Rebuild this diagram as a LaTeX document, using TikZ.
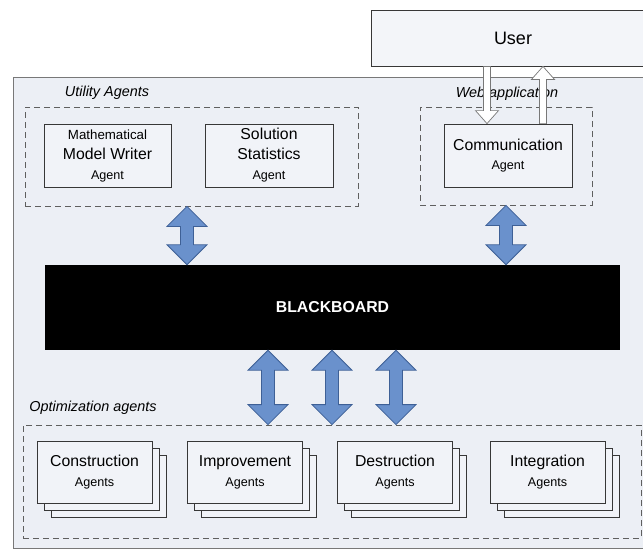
\documentclass[tikz,border=0pt]{standalone}
\usepackage{fontspec}
\setmainfont{Liberation Sans}
\usetikzlibrary{calc,shadows}

\definecolor{panelfill}{RGB}{236,239,245}
\definecolor{boxfill}{RGB}{241,243,248}
\definecolor{userfill}{RGB}{243,245,249}
\definecolor{boxline}{RGB}{55,55,55}
\definecolor{panelline}{RGB}{120,120,120}
\definecolor{dashline}{RGB}{95,95,95}
\definecolor{arrowfill}{RGB}{106,145,204}
\definecolor{arrowline}{RGB}{62,96,150}
\definecolor{thinline}{RGB}{120,120,120}

\tikzset{
  panel/.style={draw=panelline, fill=panelfill, line width=0.8pt, inner sep=0pt},
  userbox/.style={draw=boxline, fill=userfill, line width=0.8pt, inner sep=0pt,
    font=\fontsize{18}{22}\selectfont},
  group/.style={draw=dashline, dash pattern=on 6pt off 4pt, line width=0.8pt, inner sep=0pt},
  grouplabel/.style={font=\fontsize{14.4}{17}\selectfont\itshape, inner sep=0pt},
  agentbox/.style={draw=boxline, fill=boxfill, line width=0.8pt, inner sep=0pt,
    align=center, font=\fontsize{15.8}{20}\selectfont},
  stackbox/.style={agentbox, minimum width=115pt, minimum height=62pt,
    double copy shadow={shadow xshift=7pt, shadow yshift=-7pt,
      draw=boxline, fill=boxfill, line width=0.8pt}},
  board/.style={fill=black, inner sep=0pt, text=white,
    font=\fontsize{15.8}{20}\selectfont\bfseries},
  bluearrow/.style={fill=arrowfill, draw=arrowline, line width=0.8pt, line join=miter},
  hollowarrow/.style={fill=white, draw=thinline, line width=0.7pt, line join=miter}
}

\newcommand{\sm}[1]{{\fontsize{12.6}{20}\selectfont #1}}
\newcommand{\smm}[1]{{\fontsize{13.3}{20}\selectfont #1}}

% two-headed block arrow from #1 (upper tip) to #2 (lower tip)
\newcommand{\blockdbl}[2]{%
  \path[bluearrow] let \p1=(#1), \p2=(#2) in
    (\x1,\y1) -- (\x1+20pt,\y1-20pt) -- (\x1+6.5pt,\y1-20pt)
    -- (\x2+6.5pt,\y2+20pt) -- (\x2+20pt,\y2+20pt) -- (\x2,\y2)
    -- (\x2-20pt,\y2+20pt) -- (\x2-6.5pt,\y2+20pt)
    -- (\x1-6.5pt,\y1-20pt) -- (\x1-20pt,\y1-20pt) -- cycle;}

% thin outlined arrow pointing down from #1 to #2
\newcommand{\hollowdown}[2]{%
  \path[hollowarrow] let \p1=(#1), \p2=(#2) in
    (\x1-3.5pt,\y1) -- (\x1+3.5pt,\y1) -- (\x2+3.5pt,\y2+13pt)
    -- (\x2+11.5pt,\y2+13pt) -- (\x2,\y2) -- (\x2-11.5pt,\y2+13pt)
    -- (\x2-3.5pt,\y2+13pt) -- cycle;}

% thin outlined arrow pointing up from #1 to #2
\newcommand{\hollowup}[2]{%
  \path[hollowarrow] let \p1=(#1), \p2=(#2) in
    (\x1-3.5pt,\y1) -- (\x1+3.5pt,\y1) -- (\x2+3.5pt,\y2-13pt)
    -- (\x2+11.5pt,\y2-13pt) -- (\x2,\y2) -- (\x2-11.5pt,\y2-13pt)
    -- (\x2-3.5pt,\y2-13pt) -- cycle;}

\begin{document}
\begin{tikzpicture}[x=1pt,y=-1pt]
  \useasboundingbox (0,0) rectangle (643,550);
  \clip (0,0) rectangle (643,550);
  \fill[white] (0,0) rectangle (643,550);

  % user on top
  \node[userbox, minimum width=284pt, minimum height=56pt] (user) at (513,38) {User};

  % platform panel
  \node[panel, minimum width=647pt, minimum height=471pt] (platform) at (336.5,312.5) {};

  % utility agents
  \node[group, minimum width=333pt, minimum height=99pt] (util) at (191.5,156.5) {};
  \node[grouplabel] (utillabel) at (107,93) {Utility Agents};
  \node[agentbox, minimum width=127pt, minimum height=63pt] (mmw) at (107.5,155.5)
    {\smm{Mathematical}\\Model Writer\\\sm{Agent}};
  \node[agentbox, minimum width=128pt, minimum height=63pt] (sstat) at (269,155.5)
    {Solution\\Statistics\\\sm{Agent}};

  % web application
  \node[group, minimum width=172pt, minimum height=98pt] (web) at (506,156) {};
  \node[grouplabel] (weblabel) at (507,94) {Web application};
  \node[agentbox, minimum width=128pt, minimum height=63pt] (comm) at (508,155.5)
    {Communication\\[-1pt]\sm{Agent}};

  % blackboard
  \node[board, minimum width=575pt, minimum height=85pt] (bb) at (332.5,307.5) {BLACKBOARD};

  % optimization agents
  \node[group, minimum width=618pt, minimum height=113pt] (opt) at (332,481.5) {};
  \node[grouplabel] (optlabel) at (93,408) {Optimization agents};
  \node[stackbox] (cons) at (94.5,472) {Construction\\\sm{Agents}};
  \node[stackbox] (impr) at (245,472) {Improvement\\\sm{Agents}};
  \node[stackbox] (dest) at (395,472) {Destruction\\\sm{Agents}};
  \node[stackbox] (intg) at (547.5,472) {Integration\\\sm{Agents}};

  % exchanges with the blackboard
  \blockdbl{187,0 |- util.south}{187,0 |- bb.north}
  \blockdbl{506,0 |- web.south}{506,0 |- bb.north}
  \blockdbl{268,0 |- bb.south}{268,0 |- opt.north}
  \blockdbl{332,0 |- bb.south}{332,0 |- opt.north}
  \blockdbl{396,0 |- bb.south}{396,0 |- opt.north}

  % user <-> communication agent
  \hollowdown{487,0 |- user.south}{487,0 |- comm.north}
  \hollowup{543,0 |- comm.north}{543,0 |- user.south}
\end{tikzpicture}
\end{document}
